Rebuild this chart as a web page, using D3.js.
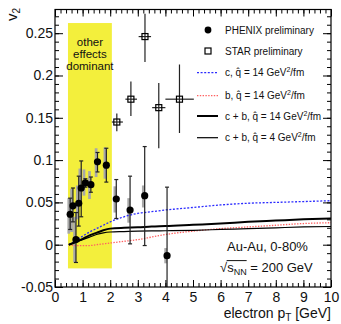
<!DOCTYPE html>
<meta charset="utf-8">
<style>
body { margin: 0; background: #fff; }
text { font-family: "Liberation Sans", Arial, Helvetica, sans-serif; fill: #111; }
.axis path { display: none; }
.axis line { stroke: #000; }
</style>
<svg width="341" height="324"></svg>
<script src="https://d3js.org/d3.v7.min.js"></script>
<script>

// PHENIX preliminary: pT, v2, stat and syst ranges
var phxPt     = [0.55, 0.65, 0.76, 0.86, 0.95, 1.10, 1.30, 1.54, 1.86, 2.22, 2.72, 3.25, 4.06];
var phxV2     = [0.036, 0.046, 0.006, 0.049, 0.067, 0.073, 0.071, 0.098, 0.094, 0.054, 0.041, 0.058, -0.013];
var phxStatLo = [0.018, 0.027, -0.021, 0.022, 0.033, 0.068, 0.062, 0.086, 0.074, 0.031, 0.001, -0.001, -0.06];
var phxStatHi = [0.055, 0.067, 0.038, 0.081, 0.099, 0.078, 0.080, 0.109, 0.114, 0.077, 0.081, 0.116, 0.068];
var phxSysLo  = [0.013, 0.015, -0.021, 0.030, 0.050, 0.058, 0.054, 0.080, 0.078, 0.038, 0.026, 0.044, -0.022];
var phxSysHi  = [0.055, 0.066, 0.033, 0.070, 0.090, 0.089, 0.087, 0.114, 0.115, 0.069, 0.055, 0.070, -0.004];

// STAR preliminary
var starPt   = [2.24, 2.75, 3.26, 3.76, 4.51];
var starPtLo = [2.06, 2.55, 3.03, 3.52, 4.00];
var starPtHi = [2.46, 2.97, 3.48, 4.00, 5.03];
var starV2   = [0.145, 0.172, 0.246, 0.162, 0.172];
var starLo   = [0.134, 0.152, 0.216, 0.114, 0.132];
var starHi   = [0.155, 0.193, 0.273, 0.191, 0.213];

// model curves
var curvePt   = [0.5, 0.75, 1, 1.25, 1.5, 1.75, 2, 2.5, 3, 3.5, 4, 5, 6, 7, 8, 9, 10];
var cQ14      = [0.0, 0.005, 0.010, 0.015, 0.019, 0.023, 0.027, 0.033, 0.037, 0.039, 0.041, 0.044, 0.047, 0.049, 0.050, 0.051, 0.052];
var bQ14      = [0.0, -0.001, -0.001, -0.001, 0.0, 0.001, 0.002, 0.004, 0.006, 0.009, 0.012, 0.016, 0.019, 0.021, 0.023, 0.025, 0.026];
var cbQ14     = [0.0, 0.003, 0.007, 0.011, 0.014, 0.017, 0.019, 0.020, 0.0205, 0.0215, 0.022, 0.0235, 0.025, 0.027, 0.0285, 0.030, 0.031];
var cbQ4      = [0.0, 0.003, 0.006, 0.009, 0.012, 0.014, 0.015, 0.0155, 0.016, 0.0163, 0.0165, 0.017, 0.018, 0.019, 0.020, 0.021, 0.0215];

// "other effects dominant" band
var bandPt = [0.47, 2.06];
var bandV2 = [-0.028, 0.262];

var xTicks = [0, 1, 2, 3, 4, 5, 6, 7, 8, 9, 10];
var yTicks = [-0.05, 0, 0.05, 0.1, 0.15, 0.2, 0.25];

var svg = d3.select("svg");
var mLeft = 55, mRight = 331, mTop = 9.5, mBottom = 287;

var x = d3.scaleLinear().domain([0, 10]).range([mLeft, mRight]);
var y = d3.scaleLinear().domain([-0.05, 0.278]).range([mBottom, mTop]);

// band
svg.append("rect")
    .attr("x", x(bandPt[0])).attr("y", y(bandV2[1]))
    .attr("width", x(bandPt[1]) - x(bandPt[0]))
    .attr("height", y(bandV2[0]) - y(bandV2[1]))
    .attr("fill", "#f3ef3c");

svg.append("g").selectAll("text")
    .data(["other", "effects", "dominant"])
    .enter().append("text")
      .attr("x", x((bandPt[0] + bandPt[1]) / 2))
      .attr("y", function(d, i) { return 45.5 + i * 12; })
      .attr("text-anchor", "middle")
      .style("font-size", "11.5px")
      .text(function(d) { return d; });

// syst boxes
var sw = 0.1;
svg.append("g").selectAll("rect")
    .data(phxPt)
    .enter().append("rect")
      .attr("x", function(d) { return x(d - sw); })
      .attr("width", x(sw) - x(0))
      .attr("y", function(d, i) { return y(phxSysHi[i]); })
      .attr("height", function(d, i) { return y(phxSysLo[i]) - y(phxSysHi[i]); })
      .attr("fill", "#a8a8a8");

// curves
var line = d3.line()
    .x(function(d) { return x(d[0]); })
    .y(function(d) { return y(d[1]); })
    .curve(d3.curveMonotoneX);

function curve(vals, color, width, dash) {
  svg.append("path")
      .datum(curvePt.map(function(p, i) { return [p, vals[i]]; }))
      .attr("d", line)
      .attr("fill", "none")
      .attr("stroke", color)
      .attr("stroke-width", width)
      .attr("stroke-dasharray", dash);
}
curve(cQ14, "#2a2aff", 1.3, "2,1.6");
curve(bQ14, "#ff6060", 1.3, "1.4,1.4");
curve(cbQ4, "#000", 1.2, null);
curve(cbQ14, "#000", 2, null);

// PHENIX stat errors
var eb = svg.append("g").attr("stroke", "#222").attr("stroke-width", 1.2);
phxPt.forEach(function(p, i) {
  var lo = Math.max(phxStatLo[i], -0.05);
  eb.append("line").attr("x1", x(p)).attr("x2", x(p))
      .attr("y1", y(lo)).attr("y2", y(phxStatHi[i]));
  eb.append("line").attr("x1", x(p) - 2).attr("x2", x(p) + 2)
      .attr("y1", y(phxStatHi[i])).attr("y2", y(phxStatHi[i]));
  if (phxStatLo[i] > -0.05)
    eb.append("line").attr("x1", x(p) - 2).attr("x2", x(p) + 2)
        .attr("y1", y(lo)).attr("y2", y(lo));
});

svg.append("g").selectAll("circle")
    .data(phxPt)
    .enter().append("circle")
      .attr("cx", function(d) { return x(d); })
      .attr("cy", function(d, i) { return y(phxV2[i]); })
      .attr("r", 3.6)
      .attr("fill", "#000");

// STAR
var sb = svg.append("g").attr("stroke", "#222").attr("stroke-width", 1.2);
starPt.forEach(function(p, i) {
  sb.append("line").attr("x1", x(p)).attr("x2", x(p))
      .attr("y1", y(starLo[i])).attr("y2", y(starHi[i]));
  sb.append("line").attr("x1", x(starPtLo[i])).attr("x2", x(starPtHi[i]))
      .attr("y1", y(starV2[i])).attr("y2", y(starV2[i]));
});
svg.append("g").selectAll("rect")
    .data(starPt)
    .enter().append("rect")
      .attr("x", function(d) { return x(d) - 3; })
      .attr("y", function(d, i) { return y(starV2[i]) - 3; })
      .attr("width", 6).attr("height", 6)
      .attr("fill", "none").attr("stroke", "#000").attr("stroke-width", 1.2);

// axes
function fmtY(d) { return String(+d.toFixed(2)); }
var xMinor = d3.range(0, 10.01, 0.2), yMinor = d3.range(-0.05, 0.2785, 0.01);

svg.append("g").attr("class", "axis").attr("transform", "translate(0," + mBottom + ")")
    .call(d3.axisBottom(x).tickValues(xTicks).tickSize(-7).tickSizeOuter(0).tickPadding(5))
    .selectAll("text").style("font-size", "14px").attr("fill", "#111");
svg.append("g").attr("class", "axis").attr("transform", "translate(0," + mBottom + ")")
    .call(d3.axisBottom(x).tickValues(xMinor).tickSize(-4).tickSizeOuter(0).tickFormat(""));
svg.append("g").attr("class", "axis").attr("transform", "translate(0," + mTop + ")")
    .call(d3.axisTop(x).tickValues(xTicks).tickSize(-7).tickSizeOuter(0).tickFormat(""));
svg.append("g").attr("class", "axis").attr("transform", "translate(0," + mTop + ")")
    .call(d3.axisTop(x).tickValues(xMinor).tickSize(-4).tickSizeOuter(0).tickFormat(""));

svg.append("g").attr("class", "axis").attr("transform", "translate(" + mLeft + ",0)")
    .call(d3.axisLeft(y).tickValues(yTicks).tickSize(-8).tickSizeOuter(0).tickPadding(2).tickFormat(fmtY))
    .selectAll("text").style("font-size", "14px").attr("fill", "#111");
svg.append("g").attr("class", "axis").attr("transform", "translate(" + mLeft + ",0)")
    .call(d3.axisLeft(y).tickValues(yMinor).tickSize(-4).tickSizeOuter(0).tickFormat(""));
svg.append("g").attr("class", "axis").attr("transform", "translate(" + mRight + ",0)")
    .call(d3.axisRight(y).tickValues(yTicks).tickSize(-8).tickSizeOuter(0).tickFormat(""));
svg.append("g").attr("class", "axis").attr("transform", "translate(" + mRight + ",0)")
    .call(d3.axisRight(y).tickValues(yMinor).tickSize(-4).tickSizeOuter(0).tickFormat(""));

svg.append("rect")
    .attr("x", mLeft).attr("y", mTop)
    .attr("width", mRight - mLeft).attr("height", mBottom - mTop)
    .attr("fill", "none").attr("stroke", "#000").attr("stroke-width", 1.2);

// axis titles
var xt = svg.append("text").attr("x", mRight).attr("y", 318)
    .attr("text-anchor", "end").style("font-size", "14px");
xt.append("tspan").text("electron p");
xt.append("tspan").attr("dy", 3).style("font-size", "10px").text("T");
xt.append("tspan").attr("dy", -3).text(" [GeV]");

var yt = svg.append("text").attr("transform", "translate(17,21) rotate(-90)")
    .style("font-size", "15px");
yt.append("tspan").text("v");
yt.append("tspan").attr("dy", 3).style("font-size", "10px").text("2");

// legend
var lg = svg.append("g");
lg.append("circle").attr("cx", 208).attr("cy", 30).attr("r", 3.4).attr("fill", "#000");
lg.append("rect").attr("x", 205).attr("y", 48).attr("width", 6).attr("height", 6)
    .attr("fill", "none").attr("stroke", "#000").attr("stroke-width", 1.2);
var lgLines = [
  {y: 72.7, c: "#2a2aff", w: 1.3, d: "2,1.6", t: "c, "},
  {y: 95.7, c: "#ff6060", w: 1.3, d: "1.4,1.4", t: "b, "},
  {y: 116, c: "#000", w: 2, d: null, t: "c + b, "},
  {y: 137.7, c: "#000", w: 1.2, d: null, t: "c + b, "}
];
var lgQ = ["14", "14", "14", "4"];
lgLines.forEach(function(l, i) {
  lg.append("line").attr("x1", 197).attr("x2", 218).attr("y1", l.y).attr("y2", l.y)
      .attr("stroke", l.c).attr("stroke-width", l.w).attr("stroke-dasharray", l.d);
  var t = lg.append("text").attr("x", 225).attr("y", l.y).attr("dy", "0.35em").style("font-size", "10px");
  t.append("tspan").text(l.t + "q\u0302 = " + lgQ[i] + " GeV");
  t.append("tspan").attr("dy", -4).style("font-size", "7px").text("2");
  t.append("tspan").attr("dy", 4).text("/fm");
});
lg.append("text").attr("x", 225).attr("y", 30).attr("dy", "0.35em").style("font-size", "10px").text("PHENIX preliminary");
lg.append("text").attr("x", 225).attr("y", 51).attr("dy", "0.35em").style("font-size", "10px").text("STAR preliminary");

// system label
svg.append("text").attr("x", 227).attr("y", 251).style("font-size", "13px").text("Au-Au, 0-80%");
var sq = svg.append("text").attr("x", 220).attr("y", 272).style("font-size", "13px");
sq.append("tspan").text("\u221As");
sq.append("tspan").attr("dy", 3).style("font-size", "9px").text("NN");
sq.append("tspan").attr("dy", -3).text(" = 200 GeV");
var n = sq.node();
var a = n.getExtentOfChar(0), b = n.getExtentOfChar(3);
svg.append("line")
    .attr("x1", a.x + a.width - 0.5).attr("x2", b.x + b.width)
    .attr("y1", a.y + 0.6).attr("y2", a.y + 0.6)
    .attr("stroke", "#111").attr("stroke-width", 1);

</script>
